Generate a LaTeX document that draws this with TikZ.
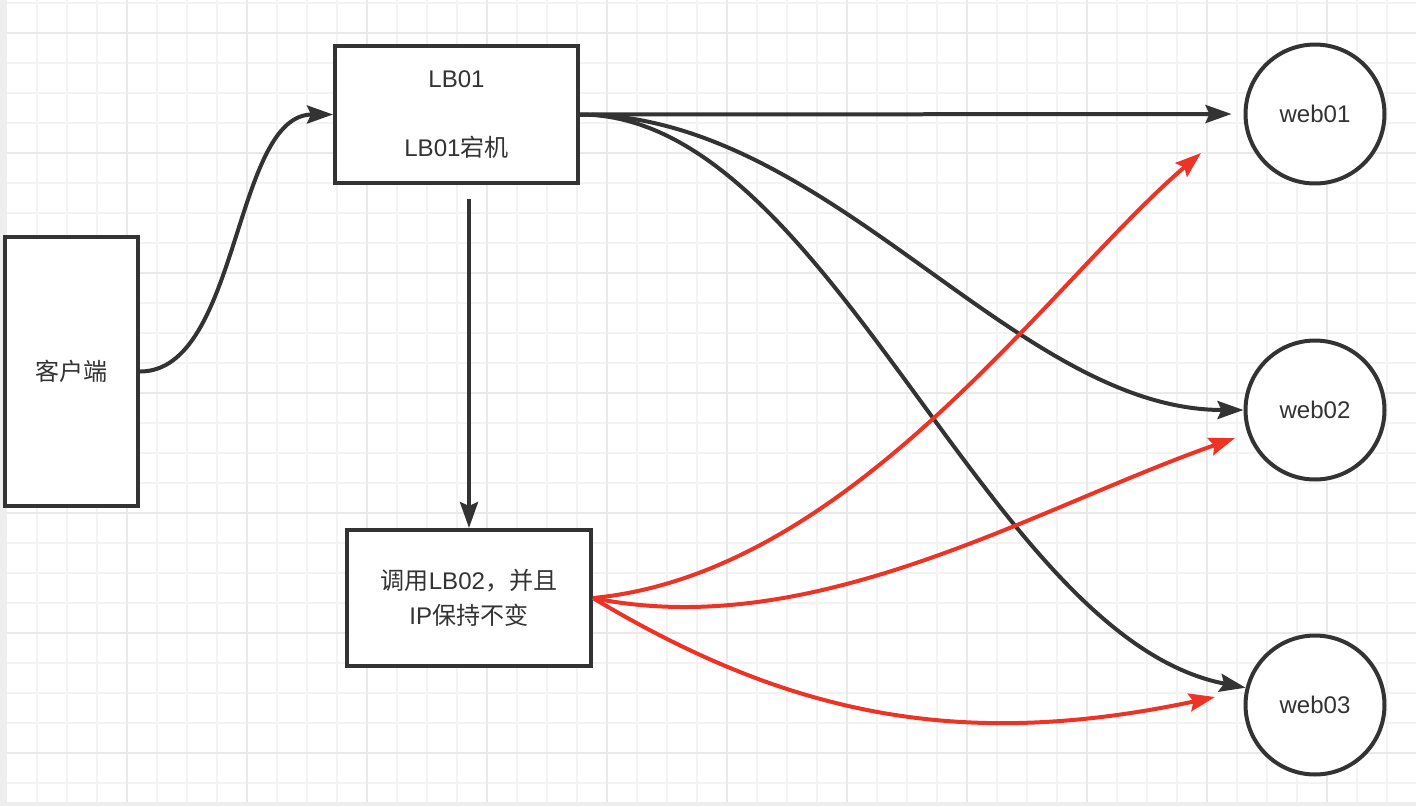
\documentclass[tikz,border=0pt]{standalone}
\usepackage{fontspec}
\setmainfont{Liberation Sans}
\newfontfamily\cjk{Noto Sans CJK SC}
\usepackage{tikz}
\usetikzlibrary{arrows.meta, positioning, calc}

\definecolor{linegray}{HTML}{333333}
\definecolor{redline}{HTML}{EC3325}
\definecolor{gridminor}{HTML}{F3F3F3}
\definecolor{gridmajor}{HTML}{E9E9E9}
\definecolor{gridedge}{HTML}{EEEEEE}

\begin{document}
\begin{tikzpicture}[
  x=0.02cm, y=-0.02cm,
  box/.style={rectangle, draw=linegray, line width=0.08cm, fill=white, align=center, text=linegray, font=\fontsize{13.7pt}{19.6pt}\selectfont},
  webnode/.style={circle, draw=linegray, line width=0.08cm, fill=white, minimum size=2.78cm, inner sep=0pt, text=linegray, font=\fontsize{13.7pt}{16pt}\selectfont},
  blackarrow/.style={line width=0.08cm, draw=linegray, -{Stealth[length=0.52cm, width=0.36cm, inset=0.08cm]}},
  redarrow/.style={line width=0.08cm, draw=redline, -{Stealth[length=0.52cm, width=0.36cm, inset=0.08cm]}},
  minorline/.style={draw=gridminor, line width=0.04cm},
  majorline/.style={draw=gridmajor, line width=0.04cm}
]
  \useasboundingbox (0,0) rectangle (1416,806);

  % Hintergrund: Raster
  \fill[gridedge] (0,0) rectangle (1416,806);
  \fill[white] (7,0) rectangle (1416,802);
  \foreach \x in {37,67,...,1407} \draw[minorline] (\x,0) -- (\x,802);
  \foreach \y in {3,33,...,783} \draw[minorline] (7,\y) -- (1416,\y);
  \foreach \x in {127,247,...,1327} \draw[majorline] (\x,0) -- (\x,802);
  \foreach \y in {33,153,...,753} \draw[majorline] (7,\y) -- (1416,\y);

  % Knoten
  \node (client) [box, minimum width=2.66cm, minimum height=5.38cm] at (71.5,371.5) {{\cjk 客户端}};
  \node (lb01) [box, minimum width=4.86cm, minimum height=2.74cm] at (456.5,114.5) {LB01\\~\\LB01{\cjk 宕机}};
  \node (lb02) [box, minimum width=4.88cm, minimum height=2.72cm] at (469,598) {{\cjk 调用}LB02{\cjk ，并且}\\IP{\cjk 保持不变}};
  \node (web01) [webnode] at (1315,114) {web01};
  \node (web02) [webnode] at (1315,410) {web02};
  \node (web03) [webnode] at (1315,705) {web03};

  % freie Enden
  \coordinate (lbtop) at (469,199);
  \coordinate (r1) at (1201,153);
  \coordinate (r2) at (1235,438);
  \coordinate (r3) at (1215,697);

  % Verbindungen
  \draw [blackarrow] (client.east) .. controls +(100,0) and +(-100,0) .. (lb01.west);
  \draw [blackarrow] (lbtop) -- (lb02.north);
  \draw [blackarrow, shorten >=0.24cm] (lb01.east) -- (web01.west);
  \draw [blackarrow] (lb01.east) .. controls +(250,0) and +(-230,0) .. (web02.west);
  \draw [blackarrow] (lb01.east) .. controls +(250,0) and +(-260,-50) .. (web03.166);
  \draw [redarrow] (lb02.east) .. controls +(260,-25) and +(-150,128) .. (r1);
  \draw [redarrow] (lb02.east) .. controls +(220,45) and +(-200,70) .. (r2);
  \draw [redarrow] (lb02.east) .. controls +(200,120) and +(-250,53) .. (r3);

\end{tikzpicture}
\end{document}
